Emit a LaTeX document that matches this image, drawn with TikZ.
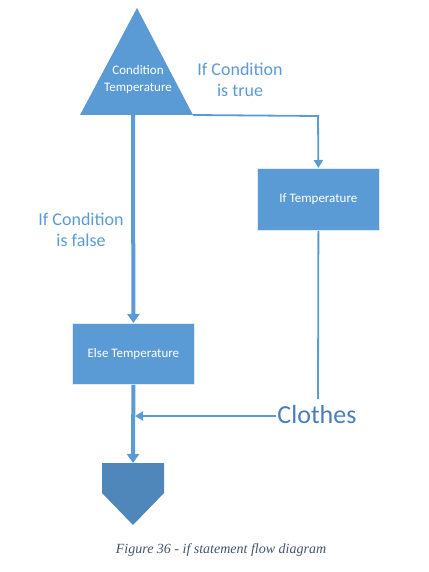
\documentclass[tikz,border=0pt]{standalone}
\usepackage{fontspec}
\setmainfont{Carlito}
\newfontfamily\capfont{Liberation Serif}
\usetikzlibrary{arrows.meta}
\definecolor{boxblue}{HTML}{5B9BD5}
\definecolor{darkblue}{HTML}{4F87BA}
\definecolor{labelblue}{HTML}{5B9BD5}
\definecolor{clothesblue}{HTML}{4A7EBB}
\definecolor{capgray}{HTML}{44546A}
\tikzset{
  procbox/.style={draw=white!80!boxblue, line width=0.8pt, fill=boxblue, text=white, font=\fontsize{13}{15}\selectfont, anchor=north west, inner sep=0pt},
  thinflow/.style={draw=boxblue, line width=1.8pt, -{Triangle[length=8pt,width=9pt]}},
  thickflow/.style={draw=boxblue, line width=4pt, -{Triangle[length=9pt,width=12pt]}},
  lbl/.style={text=labelblue, font=\fontsize{18}{21}\selectfont, align=center}
}
\begin{document}
\begin{tikzpicture}[x=1pt,y=-1pt]
\useasboundingbox (0,0) rectangle (428,572);
% triangle
\coordinate (tA) at (137,8);
\coordinate (tL) at (80,115);
\coordinate (tR) at (193,115);
\coordinate (tB) at (133,115);
\fill[boxblue] (tA) -- (tR) -- (tL) -- cycle;
\node[text=white, font=\fontsize{13}{17}\selectfont, align=center] (cond) at (138,80) {Condition\\Temperature};
% boxes
\node[procbox, minimum width=122pt, minimum height=62pt] (ifb) at (257,168) {If Temperature};
\node[procbox, minimum width=122pt, minimum height=61pt] (elseb) at (72,323) {Else Temperature};
% pentagon
\coordinate (pTop) at (133,463);
\coordinate (pTip) at (133,525);
\fill[darkblue] (102,463) -- (164,463) -- (164,493) -- (pTip) -- (102,493) -- cycle;
% Clothes
\node[text=clothesblue, font=\fontsize{26}{30}\selectfont, inner sep=0pt] (clothes) at (317,415) {Clothes};
\coordinate (mrg) at (135,416);
% connectors
\draw[thinflow] (tR) -- (318,116) -- (ifb.north);
\draw[boxblue, line width=1.8pt] (ifb.south) -- (318,399);
\draw[thinflow] (clothes.west |- mrg) ++(-1,0) -- (mrg);
\draw[thickflow] (tB) -- (elseb.north);
\draw[thickflow] (elseb.south) -- (pTop);
% labels
\node[lbl] (ltrue) at (240,80) {If Condition\\is true};
\node[lbl] (lfalse) at (81,230) {If Condition\\is false};
% caption
\node[text=capgray, font=\capfont\itshape\fontsize{14}{17}\selectfont] (cap) at (221,550) {Figure 36 - if statement flow diagram};
\end{tikzpicture}
\end{document}
